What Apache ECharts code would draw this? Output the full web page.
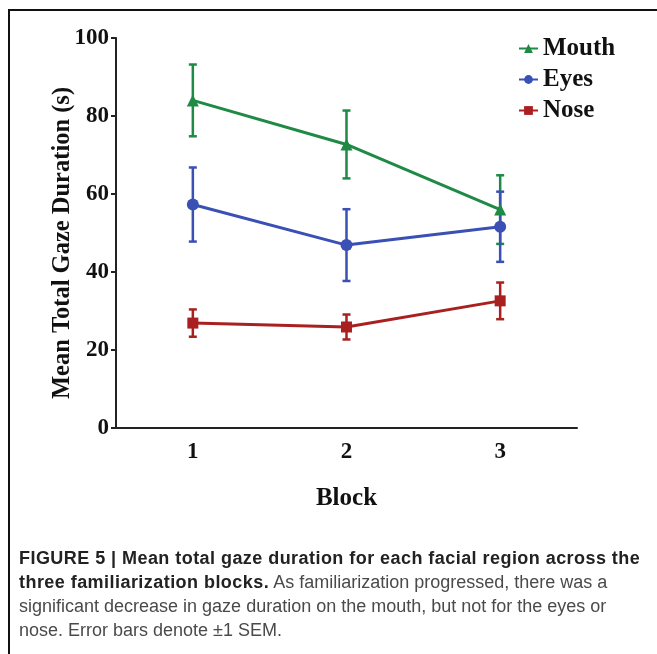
<!DOCTYPE html>
<html>
<head>
<meta charset="utf-8">
<script src="https://cdn.jsdelivr.net/npm/echarts@6/dist/echarts.min.js"></script>
<style>
html,body{margin:0;padding:0;background:#fff;}
#wrap{position:relative;width:657px;height:654px;overflow:hidden;background:#fff;}
#chart{position:absolute;left:0;top:0;width:657px;height:654px;}
#frame{position:absolute;left:8px;top:9px;width:700px;height:700px;border-left:2px solid #111;border-top:2px solid #111;}
#caption{position:absolute;left:19px;top:546px;width:650px;font-family:"Liberation Sans",Arial,sans-serif;font-size:18px;line-height:24px;color:#4a4a4a;white-space:nowrap;}
#caption b{color:#222;font-weight:bold;letter-spacing:0.45px;}
</style>
</head>
<body>
<div id="wrap">
<div id="chart"></div>
<div id="frame"></div>
<div id="caption"><b>FIGURE 5 | Mean total gaze duration for each facial region across the</b><br><b>three familiarization blocks.</b> As familiarization progressed, there was a<br>significant decrease in gaze duration on the mouth, but not for the eyes or<br>nose. Error bars denote ±1 SEM.</div>
</div>
<script>
const blocks = ['1', '2', '3'];
const yTicks = [0, 20, 40, 60, 80, 100];
const mouthMean = [84.0, 72.7, 56.0];
const mouthSem = [9.2, 8.7, 8.8];
const eyesMean = [57.3, 46.9, 51.6];
const eyesSem = [9.5, 9.2, 9.0];
const noseMean = [26.9, 25.9, 32.6];
const noseSem = [3.5, 3.2, 4.7];

const GREEN = '#1f8a45';
const BLUE = '#3a50b4';
const RED = '#a8201f';
const serif = '"Liberation Serif","Times New Roman",serif';

function errData(mean, sem) {
  return mean.map((m, i) => [i, m - sem[i], m + sem[i]]);
}
function errSeries(name, mean, sem, color) {
  return {
    type: 'custom',
    name: name + ' SEM',
    data: errData(mean, sem),
    z: 3,
    renderItem: function (params, api) {
      const x = api.value(0);
      const lo = api.coord([x, api.value(1)]);
      const hi = api.coord([x, api.value(2)]);
      const w = 4;
      const st = { stroke: color, lineWidth: 2.5 };
      return {
        type: 'group',
        children: [
          { type: 'line', shape: { x1: lo[0], y1: lo[1], x2: hi[0], y2: hi[1] }, style: st },
          { type: 'line', shape: { x1: hi[0] - w, y1: hi[1], x2: hi[0] + w, y2: hi[1] }, style: st },
          { type: 'line', shape: { x1: lo[0] - w, y1: lo[1], x2: lo[0] + w, y2: lo[1] }, style: st }
        ]
      };
    }
  };
}
function lineSeries(name, mean, color, symbol, size) {
  return {
    type: 'line',
    name: name,
    data: mean,
    symbol: symbol,
    symbolSize: size,
    z: 4,
    lineStyle: { color: color, width: 3 },
    itemStyle: { color: color },
    emphasis: { disabled: true }
  };
}

const chart = echarts.init(document.getElementById('chart'), null, { renderer: 'canvas' });
chart.setOption({
  animation: false,
  backgroundColor: '#fff',
  grid: { left: 116, right: 80, top: 38, bottom: 226, containLabel: false },
  legend: {
    data: ['Mouth', 'Eyes', 'Nose'],
    orient: 'vertical',
    left: 513,
    top: 31,
    itemWidth: 19,
    itemHeight: 11,
    itemGap: 6,
    textStyle: { fontFamily: serif, fontWeight: 'bold', fontSize: 25, color: '#111' }
  },
  xAxis: {
    type: 'category',
    data: blocks,
    boundaryGap: true,
    name: 'Block',
    nameLocation: 'middle',
    nameGap: 58,
    nameMoveOverlap: false,
    nameTextStyle: { fontFamily: serif, fontWeight: 'bold', fontSize: 25, color: '#111' },
    axisLine: { lineStyle: { color: '#222', width: 2 } },
    axisTick: { alignWithLabel: true, length: 5, lineStyle: { color: '#222', width: 2 } },
    axisLabel: { fontFamily: serif, fontWeight: 'bold', fontSize: 23, color: '#111', margin: 13 },
    splitLine: { show: false }
  },
  yAxis: {
    type: 'value',
    min: yTicks[0],
    max: yTicks[yTicks.length - 1],
    interval: yTicks[1] - yTicks[0],
    name: 'Mean Total Gaze Duration (s)',
    nameLocation: 'middle',
    nameGap: 41,
    nameMoveOverlap: false,
    nameTextStyle: { fontFamily: serif, fontWeight: 'bold', fontSize: 24.5, color: '#111', padding: [0, 20, 0, 0] },
    axisLine: { show: true, lineStyle: { color: '#222', width: 2 } },
    axisTick: { show: true, length: 5, lineStyle: { color: '#222', width: 2 } },
    axisLabel: { fontFamily: serif, fontWeight: 'bold', fontSize: 23, color: '#111', margin: 7 },
    splitLine: { show: false }
  },
  series: [
    errSeries('Mouth', mouthMean, mouthSem, GREEN),
    errSeries('Eyes', eyesMean, eyesSem, BLUE),
    errSeries('Nose', noseMean, noseSem, RED),
    lineSeries('Mouth', mouthMean, GREEN, 'triangle', 12),
    lineSeries('Eyes', eyesMean, BLUE, 'circle', 12),
    lineSeries('Nose', noseMean, RED, 'rect', 11)
  ]
});
</script>
</body>
</html>
